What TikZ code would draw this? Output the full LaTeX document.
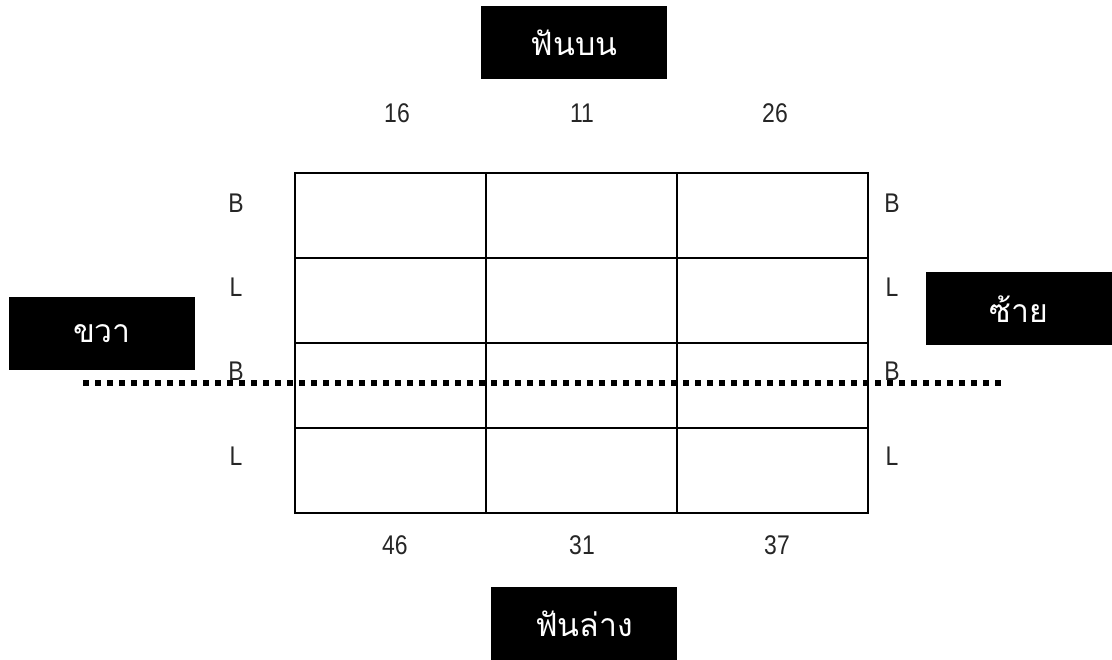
\documentclass[tikz,border=0pt]{standalone}
\usepackage{fontspec}
\newfontfamily\thaifont[Script=Thai]{Loma}
\setmainfont{Liberation Sans}[FakeStretch=0.85]
\tikzset{
  blackbox/.style={fill=black,text=white,minimum width=186pt,minimum height=73pt,inner sep=0pt,
    font=\thaifont\fontsize{32}{36}\selectfont},
  lbl/.style={inner sep=0pt,font=\fontsize{27}{30}\selectfont,text=black!85},
  gridline/.style={line width=2pt,black},
  cut/.style={line width=6pt,dash pattern=on 6pt off 6pt,black}
}
\begin{document}
\begin{tikzpicture}[x=1pt,y=-1pt]
\useasboundingbox (0,0) rectangle (1112,660);
% boxes
\node[blackbox] (top) at (574,42.5) {ฟันบน};
\node[blackbox] (bot) at (584,623.5) {ฟันล่าง};
\node[blackbox] (right) at (102,334) {ขวา};
\node[blackbox] (left) at (1019,309) {ซ้าย};
% grid
\draw[gridline] (295,173) rectangle (868,513);
\foreach \yy in {258,343,428} \draw[gridline] (295,\yy) -- (868,\yy);
\foreach \xx in {486,677} \draw[gridline] (\xx,173) -- (\xx,513);
% numbers
\node[lbl] (n16) at (397,113) {16};
\node[lbl] (n11) at (582,113) {11};
\node[lbl] (n26) at (775,113) {26};
\node[lbl] (n46) at (395,545) {46};
\node[lbl] (n31) at (582,545) {31};
\node[lbl] (n37) at (777,545) {37};
% side labels
\node[lbl] (lb1) at (236,203) {B};
\node[lbl] (ll1) at (236,287) {L};
\node[lbl] (lb2) at (236,371) {B};
\node[lbl] (ll2) at (236,456) {L};
\node[lbl] (rb1) at (892,203) {B};
\node[lbl] (rl1) at (892,287) {L};
\node[lbl] (rb2) at (892,371) {B};
\node[lbl] (rl2) at (892,456) {L};
% cut line
\coordinate (c1) at (83,383);
\coordinate (c2) at (1004,383);
\draw[cut] (c1) -- (c2);
\end{tikzpicture}
\end{document}
